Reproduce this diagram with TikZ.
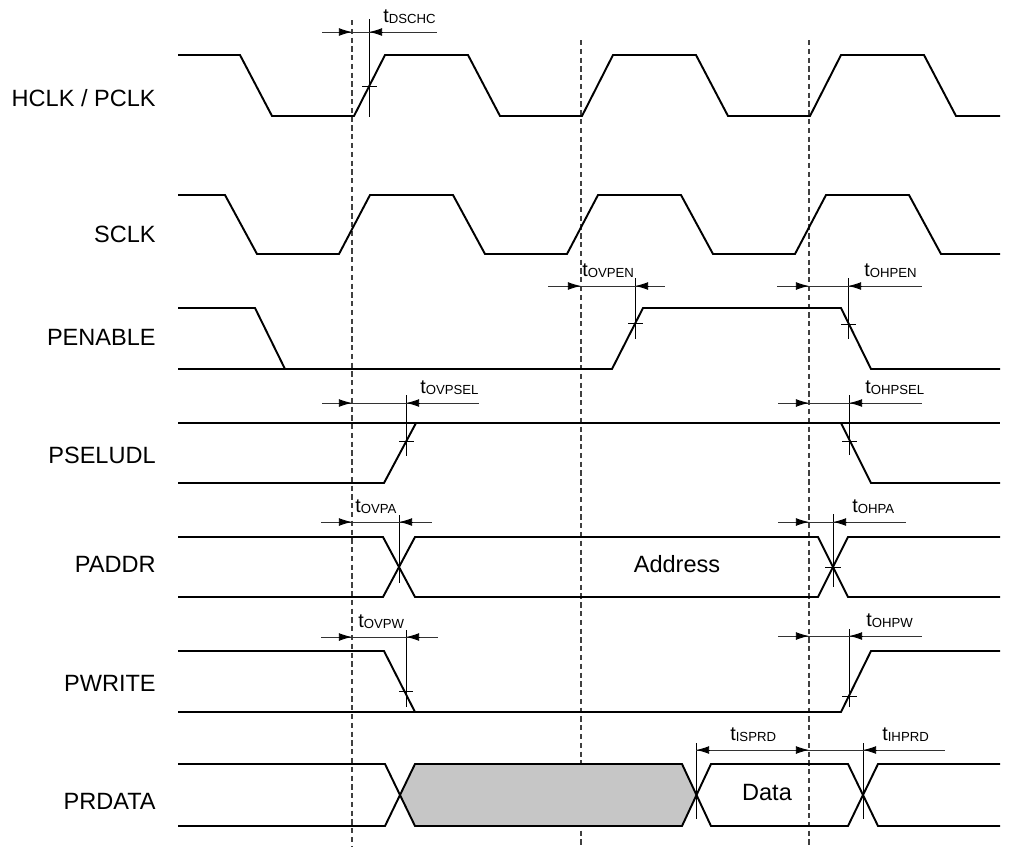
\documentclass[tikz,border=0pt]{standalone}
\usepackage{fontspec}
\setmainfont{Liberation Sans}
\usetikzlibrary{arrows.meta,calc}

\tikzset{
  sigline/.style={line width=1.1pt, line join=miter},
  gridln/.style={black!75, line width=0.6pt, dash pattern=on 3pt off 2pt},
  edgeln/.style={black, line width=0.5pt},
  dimln/.style={black!80, line width=0.5pt},
  dimtip/.style={black, line width=0.5pt, -{Latex[length=7.5pt,width=4.5pt]}},
  rowlabel/.style={anchor=east, inner sep=0pt, font=\fontsize{13.4}{16}\selectfont},
  buslabel/.style={inner sep=0pt, font=\fontsize{13.4}{16}\selectfont},
  tlabel/.style={anchor=base west, inner sep=0pt, font=\fontsize{11.2}{13}\selectfont},
}

% t with a small index
\newcommand{\tsub}[1]{t\raisebox{-0.6pt}{\fontsize{7.5}{9}\selectfont #1}}
% name, y, left end, guide x, edge x, right end, label x, index
\newcommand{\tdim}[8]{%
  \draw[dimln] (#3,#2) -- (#6,#2);
  \draw[dimtip] (#4-13,#2) -- (#4,#2);
  \draw[dimtip] (#5+13,#2) -- (#5,#2);
  \node[tlabel] (#1) at (#7,#2-10) {\tsub{#8}};
}

\begin{document}
\begin{tikzpicture}[x={(0.02cm,0)}, y={(0,-0.02cm)}]
    \useasboundingbox (0,0) rectangle (1018,846);

    % signal names
    \node[rowlabel] (hclk) at (156,98.5) {HCLK / PCLK};
    \node[rowlabel] (sclk) at (156,234) {SCLK};
    \node[rowlabel] (penable) at (156,337) {PENABLE};
    \node[rowlabel] (pseludl) at (156,455) {PSELUDL};
    \node[rowlabel] (paddr) at (156,564) {PADDR};
    \node[rowlabel] (pwrite) at (156,683) {PWRITE};
    \node[rowlabel] (prdata) at (156,801) {PRDATA};

    % reference edges
    \foreach \gx/\gy in {352/20, 581/40, 809/40}
      \draw[gridln] (\gx,\gy) -- (\gx,846);

    % clocks
    \draw[sigline] (178,55) -- (240,55) -- (272,116)
      \foreach \k in {0,1,2} { -- ++(82,0) -- ++(31,-61) -- ++(83,0) -- ++(32,61) } -- (1000,116);
    \draw[sigline] (178,195) -- (225,195) -- (257,254)
      \foreach \k in {0,1,2} { -- ++(82,0) -- ++(31,-59) -- ++(83,0) -- ++(32,59) } -- (1000,254);

    % PENABLE
    \draw[sigline] (178,308) -- (255,308) -- (285,369);
    \draw[sigline] (178,369) -- (612,369) -- (643,308) -- (841,308) -- (871,369) -- (1000,369);

    % PSELUDL
    \draw[sigline] (178,423) -- (1000,423);
    \draw[sigline] (178,483) -- (384,483) -- (416,423);
    \draw[sigline] (841,423) -- (871,483) -- (1000,483);

    % PADDR
    \draw[sigline] (178,537) -- (383,537) -- (415,597) -- (818,597) -- (848,537) -- (1000,537);
    \draw[sigline] (178,597) -- (383,597) -- (415,537) -- (818,537) -- (848,597) -- (1000,597);
    \node[buslabel] (addr) at (677,564) {Address};

    % PWRITE
    \draw[sigline] (178,651) -- (384,651) -- (415,712);
    \draw[sigline] (178,712) -- (841,712) -- (871,651) -- (1000,651);

    % PRDATA
    \fill[gray!45] (400,795) -- (415,764) -- (682,764) -- (697,795) -- (682,826) -- (415,826) -- cycle;
    \draw[sigline] (178,764) -- (385,764) -- (415,826) -- (682,826) -- (711,764) -- (848,764) -- (878,826) -- (1000,826);
    \draw[sigline] (178,826) -- (385,826) -- (415,764) -- (682,764) -- (711,826) -- (848,826) -- (878,764) -- (1000,764);
    \node[buslabel] (data) at (767,793) {Data};

    % timing marks on the edges
    \draw[edgeln] (369,19) -- (369,117);  \draw[edgeln] (362,86) -- (377,86);
    \draw[edgeln] (635,278) -- (635,339); \draw[edgeln] (628,323) -- (643,323);
    \draw[edgeln] (848,278) -- (848,339); \draw[edgeln] (841,324) -- (856,324);
    \draw[edgeln] (406,395) -- (406,456); \draw[edgeln] (399,441) -- (414,441);
    \draw[edgeln] (849,395) -- (849,455); \draw[edgeln] (842,441) -- (857,441);
    \draw[edgeln] (399,515) -- (399,583);
    \draw[edgeln] (833,514) -- (833,587); \draw[edgeln] (825,567) -- (841,567);
    \draw[edgeln] (406,630) -- (406,707); \draw[edgeln] (399,691) -- (413,691);
    \draw[edgeln] (849,629) -- (849,707); \draw[edgeln] (842,696) -- (857,696);
    \draw[edgeln] (696,743) -- (696,819);
    \draw[edgeln] (863,743) -- (863,819);

    % delays
    \tdim{dschc}{32}{322}{352}{369}{437}{383}{DSCHC}
    \tdim{ovpen}{286}{548}{581}{635}{665}{582}{OVPEN}
    \tdim{ohpen}{286}{777}{809}{848}{922}{864}{OHPEN}
    \tdim{ovpsel}{403}{322}{352}{406}{479}{420}{OVPSEL}
    \tdim{ohpsel}{403}{778}{809}{849}{922}{865}{OHPSEL}
    \tdim{ovpa}{522}{321}{352}{399}{432}{355}{OVPA}
    \tdim{ohpa}{522}{778}{809}{833}{906}{852}{OHPA}
    \tdim{ovpw}{637}{321}{352}{406}{438}{358}{OVPW}
    \tdim{ohpw}{636}{778}{809}{849}{922}{866}{OHPW}

    \draw[dimln] (696,750) -- (945,750);
    \draw[dimtip] (709,750) -- (696,750);
    \draw[dimtip] (796,750) -- (809,750);
    \draw[dimtip] (876,750) -- (863,750);
    \node[tlabel] (isprd) at (730,740) {\tsub{ISPRD}};
    \node[tlabel] (ihprd) at (882,740) {\tsub{IHPRD}};
\end{tikzpicture}
\end{document}
